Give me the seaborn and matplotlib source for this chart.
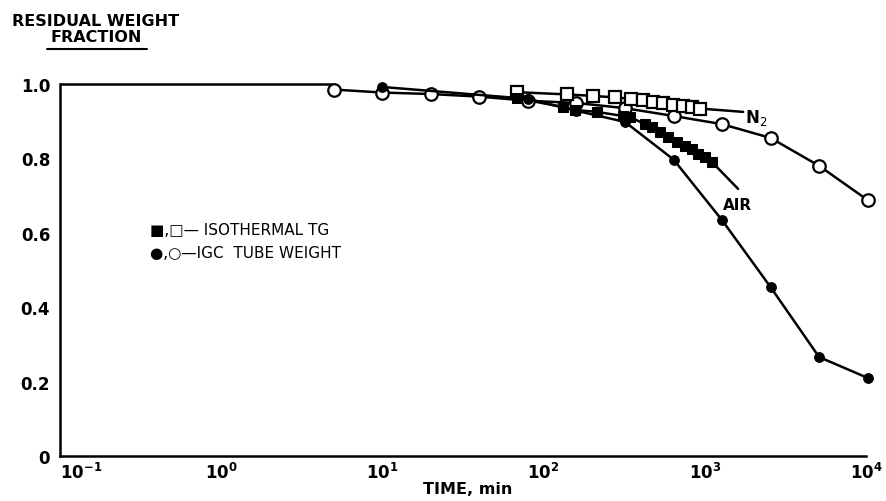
import matplotlib
matplotlib.use("Agg")
import matplotlib.pyplot as plt
from matplotlib.lines import Line2D
import seaborn as sns

# IGC tube weight, open circles (N2) and filled circles (air)
t_igc_n2 = [5, 10, 20, 40, 80, 160, 320, 640, 1280, 2560, 5120, 10240]
w_igc_n2 = [0.985, 0.977, 0.973, 0.966, 0.955, 0.949, 0.935, 0.914, 0.892, 0.855, 0.780, 0.688]

t_igc_air = [10, 80, 160, 320, 640, 1280, 2560, 5120, 10240]
w_igc_air = [0.992, 0.960, 0.928, 0.898, 0.797, 0.634, 0.454, 0.266, 0.210]

# isothermal TG, open squares (N2) and filled squares (air)
t_tg_n2 = [68, 140, 202, 277, 348, 414, 478, 551, 635, 733, 833, 934]
w_tg_n2 = [0.978, 0.972, 0.968, 0.964, 0.960, 0.956, 0.952, 0.948, 0.944, 0.940, 0.937, 0.934]

t_tg_air = [68, 132, 157, 214, 311, 344, 426, 471, 528, 592, 673, 754, 833, 908, 1003, 1109]
w_tg_air = [0.962, 0.938, 0.930, 0.925, 0.914, 0.911, 0.892, 0.884, 0.871, 0.858, 0.844,
            0.833, 0.825, 0.812, 0.804, 0.790]

# where the TG curves run on past the last point, up to their labels
t_tg_n2_tail = [934, 1730]
w_tg_n2_tail = [0.934, 0.925]
t_tg_air_tail = [1109, 1610]
w_tg_air_tail = [0.790, 0.718]

x_ticks = [0.1, 1, 10, 100, 1000, 10000]
x_labels = [r"$\mathbf{10^{-1}}$", r"$\mathbf{10^{0}}$", r"$\mathbf{10^{1}}$",
            r"$\mathbf{10^{2}}$", r"$\mathbf{10^{3}}$", r"$\mathbf{10^{4}}$"]
y_ticks = [0, 0.2, 0.4, 0.6, 0.8, 1.0]
y_labels = ["0", "0.2", "0.4", "0.6", "0.8", "1.0"]

sns.set_style("white")
plt.rcParams["font.family"] = ["DejaVu Sans"]
plt.rcParams["text.color"] = "black"
plt.rcParams["axes.labelcolor"] = "black"
plt.rcParams["xtick.color"] = "black"
plt.rcParams["ytick.color"] = "black"

fig = plt.figure(figsize=(8.87, 5.02), dpi=100)
ax = fig.add_axes([0.0676, 0.0896, 0.9087, 0.7411])

lw = 1.8
common = dict(color="black", linewidth=lw, clip_on=False, legend=False)

# curves
sns.lineplot(x=t_igc_n2, y=w_igc_n2, ax=ax, marker="o", markersize=9,
             markerfacecolor="white", markeredgecolor="black", markeredgewidth=1.6,
             zorder=3, **common)
sns.lineplot(x=t_tg_n2 + t_tg_n2_tail[1:], y=w_tg_n2 + w_tg_n2_tail[1:], ax=ax,
             zorder=2, **common)
sns.lineplot(x=t_tg_n2, y=w_tg_n2, ax=ax, marker="s", markersize=8.5, linewidth=0,
             markerfacecolor="white", markeredgecolor="black", markeredgewidth=1.6,
             color="black", clip_on=False, legend=False, zorder=4)
sns.lineplot(x=t_igc_air, y=w_igc_air, ax=ax, marker="o", markersize=7,
             markerfacecolor="black", markeredgecolor="black", zorder=3, **common)
sns.lineplot(x=t_tg_air + t_tg_air_tail[1:], y=w_tg_air + w_tg_air_tail[1:], ax=ax,
             zorder=2, **common)
sns.lineplot(x=t_tg_air, y=w_tg_air, ax=ax, marker="s", markersize=7.5, linewidth=0,
             markerfacecolor="black", markeredgecolor="black",
             color="black", clip_on=False, legend=False, zorder=4)

# flat start at 1.0 from the axis to the first reading
ax.hlines(1.0, x_ticks[0], t_igc_n2[0], color="black", linewidth=lw, clip_on=False)

ax.set_xscale("log")
ax.set_xlim(x_ticks[0], x_ticks[-1])
ax.set_ylim(0, 1.0)
ax.set_xticks(x_ticks)
ax.set_xticklabels(x_labels, fontsize=12)
ax.get_xticklabels()[0].set_horizontalalignment("left")
ax.minorticks_off()
ax.set_yticks(y_ticks)
ax.set_yticklabels(y_labels, fontsize=12, fontweight="bold")
ax.tick_params(axis="both", direction="in", length=8, width=1.6, color="black")
ax.tick_params(axis="x", pad=4)
ax.tick_params(axis="y", pad=7)

sns.despine(ax=ax, top=True, right=True)
for side in ["left", "bottom"]:
    ax.spines[side].set_color("black")
    ax.spines[side].set_linewidth(1.8)

ax.text(1780, 0.912, "N$_2$", fontsize=12, fontweight="bold", ha="left", va="center")
ax.text(1297, 0.677, "AIR", fontsize=11, fontweight="bold", ha="left", va="center")

fig.text(0.169, 0.540, "\u25a0,\u25a1\u2014 ISOTHERMAL TG", fontsize=11, ha="left", va="center")
fig.text(0.169, 0.496, "\u25cf,\u25cb\u2014IGC  TUBE WEIGHT", fontsize=11, ha="left", va="center")

fig.text(0.0135, 0.958, "RESIDUAL WEIGHT", fontsize=11.5, fontweight="bold", ha="left", va="center")
fig.text(0.109, 0.926, "FRACTION", fontsize=11.5, fontweight="bold", ha="center", va="center")
fig.add_artist(Line2D([0.053, 0.166], [0.900, 0.900], color="black", linewidth=1.5))

fig.text(0.527, 0.025, "TIME, min", fontsize=11.5, fontweight="bold", ha="center", va="center")

fig.savefig("out.png", dpi=100, facecolor="white")
